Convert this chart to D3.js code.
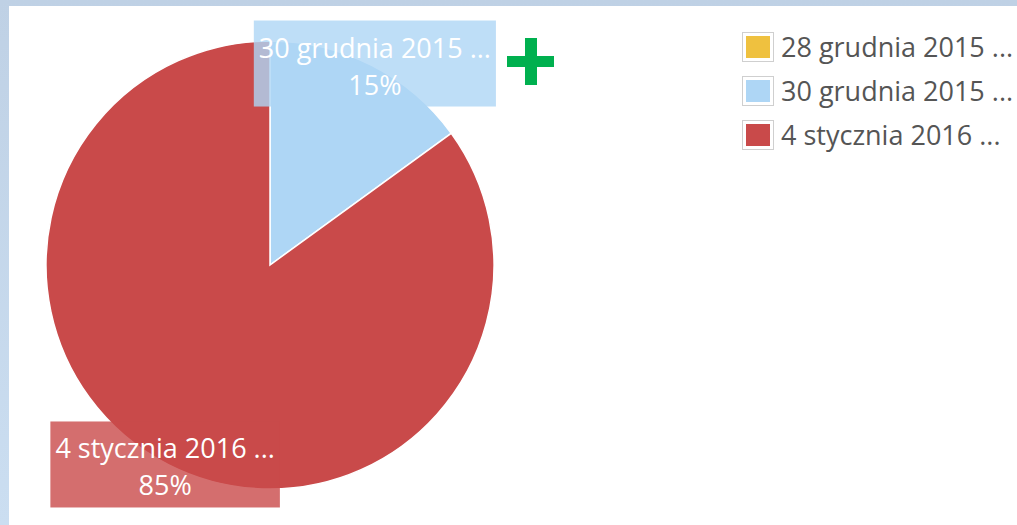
<!DOCTYPE html>
<html>
<head>
<meta charset="utf-8">
<script src="https://cdn.jsdelivr.net/npm/d3@7"></script>
<style>
  html, body { margin: 0; padding: 0; }
  body { width: 1017px; height: 525px; overflow: hidden; font-family: "Open Sans", sans-serif; }
</style>
</head>
<body>
<div id="chart"></div>
<script>
// data
const categories = ["28 grudnia 2015 ...", "30 grudnia 2015 ...", "4 stycznia 2016 ..."];
const values = [0, 15, 85];
const colors = ["#efc13f", "#aed6f5", "#c94a4a"];

const W = 1017, H = 525;
const cx = 270, cy = 265, radius = 224;
const fontSize = 27;

const svg = d3.select("#chart").append("svg")
  .attr("width", W)
  .attr("height", H);

// background frame
const defs = svg.append("defs");
const grad = defs.append("linearGradient")
  .attr("id", "bg").attr("x1", 0).attr("y1", 0).attr("x2", 0).attr("y2", 1);
grad.append("stop").attr("offset", "0%").attr("stop-color", "#bfd1e5");
grad.append("stop").attr("offset", "100%").attr("stop-color", "#cbdef1");
svg.append("rect").attr("width", W).attr("height", H).attr("fill", "url(#bg)");
svg.append("rect").attr("x", 9).attr("y", 6).attr("width", W - 9).attr("height", H - 6).attr("fill", "#fff");

const data = categories.map((c, i) => ({ name: c, value: values[i], color: colors[i] }));

const pie = d3.pie().sort(null).value(d => d.value);
const arcs = pie(data);
const arc = d3.arc().innerRadius(0).outerRadius(radius);

const g = svg.append("g").attr("transform", `translate(${cx},${cy})`);

g.selectAll("path.slice")
  .data(arcs.filter(d => d.data.value > 0))
  .enter()
  .append("path")
  .attr("class", "slice")
  .attr("d", arc)
  .attr("fill", d => d.data.color)
  .attr("stroke", "#fff")
  .attr("stroke-width", 1.5);

// slice labels with translucent boxes, placed around the rim
const totals = d3.sum(values);
const labels = g.selectAll("g.label")
  .data(arcs.filter(d => d.data.value > 0))
  .enter()
  .append("g")
  .attr("class", "label")
  .attr("transform", d => {
    const a = (d.startAngle + d.endAngle) / 2;
    return `translate(${Math.sin(a) * 231},${-Math.cos(a) * 225 - 2})`;
  });

labels.append("rect").attr("class", "box");

labels.append("text")
  .attr("text-anchor", "middle")
  .attr("y", -5)
  .style("font-size", fontSize + "px")
  .attr("fill", "#fff")
  .text(d => d.data.name);

labels.append("text")
  .attr("text-anchor", "middle")
  .attr("y", 32)
  .style("font-size", fontSize + "px")
  .attr("fill", "#fff")
  .text(d => Math.round(d.data.value / totals * 100) + "%");

labels.each(function (d) {
  const t = d3.select(this).select("text").node().getBBox();
  const w = t.width + 10;
  d3.select(this).select("rect")
    .attr("x", -w / 2)
    .attr("y", -42)
    .attr("width", w)
    .attr("height", 86)
    .attr("fill", d.data.color)
    .attr("fill-opacity", 0.8);
});

// plus icon
svg.append("path")
  .attr("d", "M507,56H554V67H507Z M525,38H537V85H525Z")
  .attr("fill", "#00b04f");

// legend
const legend = svg.append("g").attr("transform", "translate(742,32)");
const rows = legend.selectAll("g")
  .data(data)
  .enter()
  .append("g")
  .attr("transform", (d, i) => `translate(0,${i * 44})`);

rows.append("rect")
  .attr("x", 0.5).attr("y", 0.5)
  .attr("width", 31).attr("height", 29)
  .attr("fill", "#fff")
  .attr("stroke", "#cfcfcf");

rows.append("rect")
  .attr("x", 4).attr("y", 4)
  .attr("width", 24).attr("height", 22)
  .attr("fill", d => d.color);

rows.append("text")
  .attr("x", 39)
  .attr("y", 25)
  .style("font-size", fontSize + "px")
  .attr("fill", "#555")
  .text(d => d.name);
</script>
</body>
</html>
